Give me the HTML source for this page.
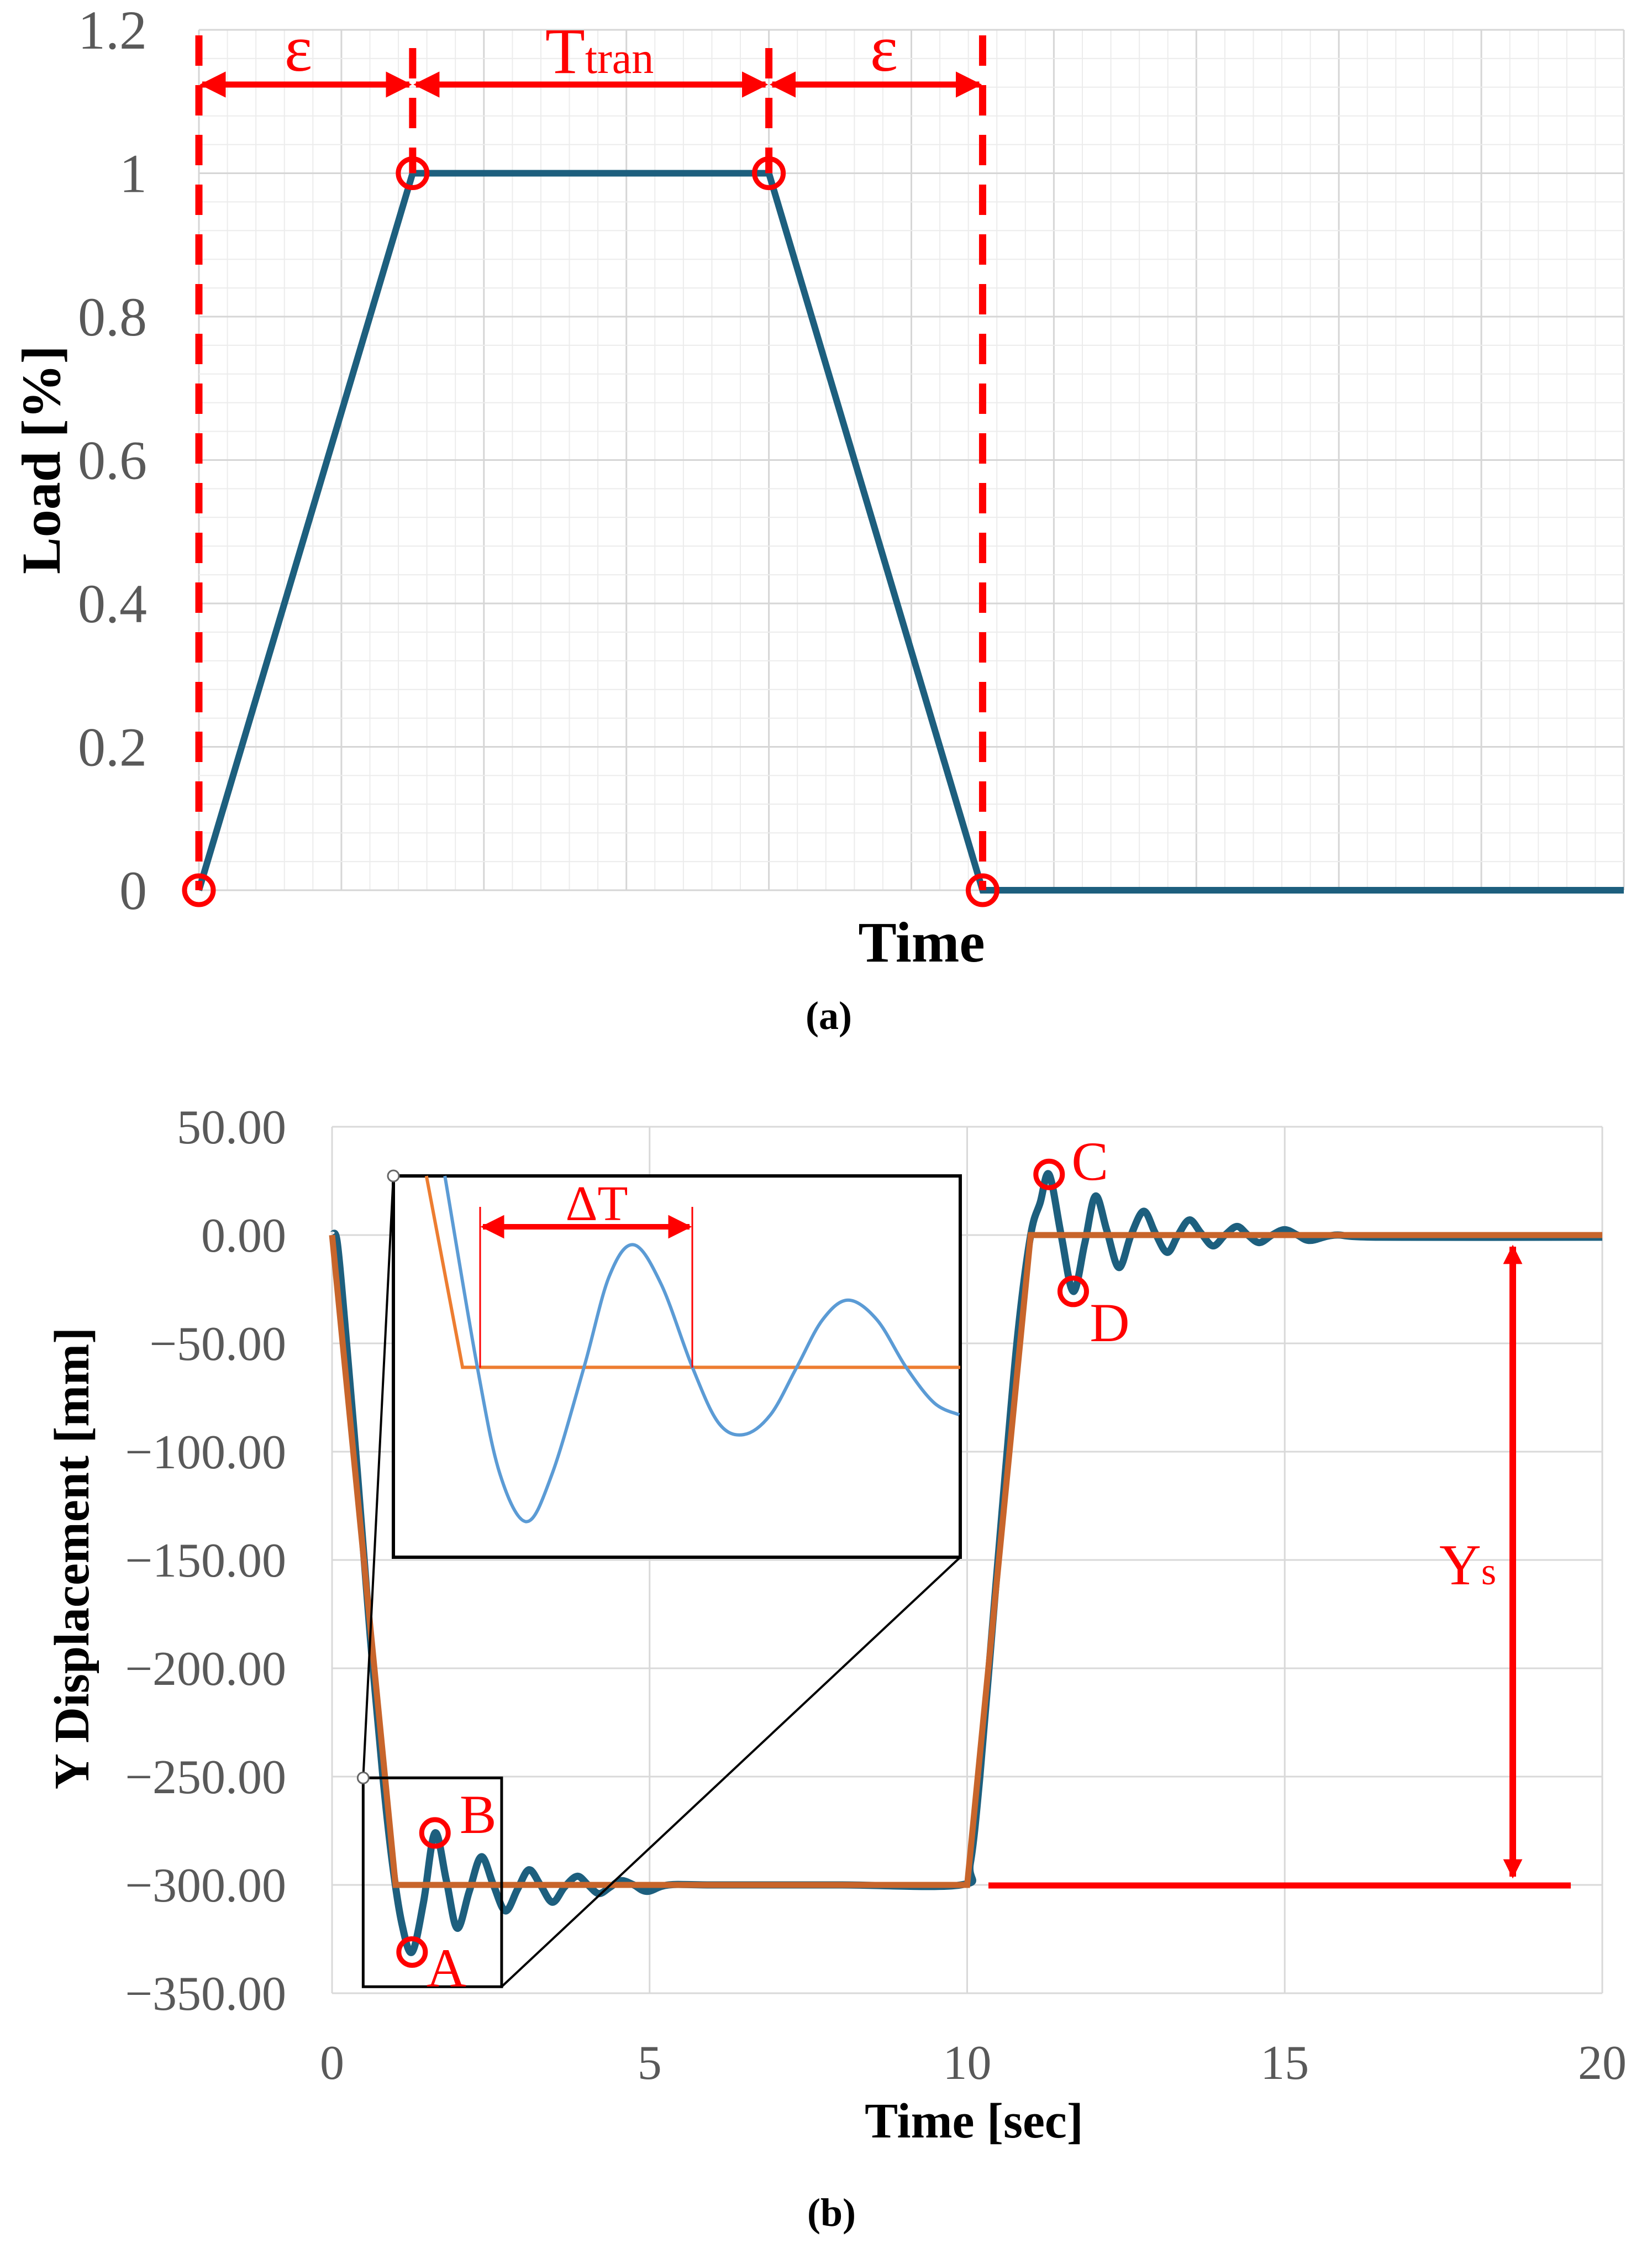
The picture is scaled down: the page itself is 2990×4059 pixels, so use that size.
<!DOCTYPE html>
<html><head><meta charset="utf-8">
<style>
html,body{margin:0;padding:0;background:#fff;}
svg{display:block;font-family:"Liberation Serif",serif;}
</style></head>
<body>
<svg id="fig" width="2990" height="4059" viewBox="0 0 2990 4059" xmlns="http://www.w3.org/2000/svg">
<defs>
<marker id="ah" viewBox="0 0 10 10" refX="9" refY="5" markerWidth="4.3" markerHeight="4.3" orient="auto-start-reverse"><path d="M0,0 L10,5 L0,10 z" fill="#ff0000"/></marker>
<marker id="ah2" viewBox="0 0 10 10" refX="9" refY="5" markerWidth="2.9" markerHeight="2.9" orient="auto-start-reverse"><path d="M0,0 L10,5 L0,10 z" fill="#ff0000"/></marker>
</defs>
<g id="chartA"></g>
<g id="chartB"></g>
</svg>
<script>
// ---------- Chart (a) data ----------
const aTimes = [0, 1.5, 4, 5.5, 10];
const aLoads = [0, 1, 1, 0, 0];
const aYTicks = [0, 0.2, 0.4, 0.6, 0.8, 1, 1.2];
const aYTickLabels = ["0", "0.2", "0.4", "0.6", "0.8", "1", "1.2"];
const aMarkTimes = [0, 1.5, 4, 5.5];

// ---------- Chart (b) data ----------
const bYTicks = [50, 0, -50, -100, -150, -200, -250, -300, -350];
const bYTickLabels = ["50.00", "0.00", "\u221250.00", "\u2212100.00", "\u2212150.00", "\u2212200.00", "\u2212250.00", "\u2212300.00", "\u2212350.00"];
const bXTicks = [0, 5, 10, 15, 20];
const bXTickLabels = ["0", "5", "10", "15", "20"];
const orangeT = [0, 1.0, 10.0, 11.0, 20];
const orangeY = [0, -300, -300, 0, 0];
const blueT = [0,0.08,0.2,0.4,0.6,0.8,0.95,1.1,1.26,1.44,1.62,1.8,1.97,2.16,2.35,2.54,2.73,2.92,3.1,3.28,3.47,3.66,3.86,4.03,4.2,4.38,4.55,4.75,4.96,5.3,6,8,9.9,10.05,10.2,10.4,10.6,10.8,11.0,11.15,11.29,11.48,11.67,11.85,12.02,12.2,12.39,12.58,12.78,12.96,13.15,13.32,13.5,13.68,13.87,14.06,14.25,14.42,14.6,14.8,15,15.2,15.4,15.8,16.5,20];
const blueY = [0,-3,-40,-110,-185,-250,-290,-318,-331,-308,-276,-298,-320,-303,-287,-300,-312,-302,-293,-300,-308,-301,-296,-300,-304,-301,-298,-300,-303,-300,-300,-300,-300,-290,-250,-180,-110,-45,0,15,28,0,-26,-4,18,2,-15,0,11,1,-8,0,7,1,-5,0,4,0,-3.5,0,2.5,0,-2.5,0,-1,-1];
// inset (zoom) data
const insetOrangeT = [0.617, 0.756, 2.67];
const insetOrangeY = [-250.6, -299, -299];
const insetBlueT = [0.688,0.813,0.9,1.002,1.1,1.223,1.32,1.414,1.52,1.64,1.74,1.837,1.94,2.041,2.14,2.239,2.35,2.462,2.57,2.666];
const insetBlueY = [-250.6,-299,-326,-338,-326,-299,-276,-268,-278,-299,-313,-316,-311,-299,-287,-282,-287,-299,-308,-311];
const markerLabels = ["A","B","C","D"];
const markerT = [1.26, 1.62, 11.29, 11.67];
const markerY = [-331, -276, 28, -26];

const NS = "http://www.w3.org/2000/svg";
function el(tag, attrs, parent){ const e=document.createElementNS(NS,tag); for(const k in attrs) e.setAttribute(k,attrs[k]); parent.appendChild(e); return e; }

// ===== Chart A =====
const A = document.getElementById('chartA');
const aL=360, aR=2939, aTop=54, aBot=1611;
const ax = t => aL + (t/10)*(aR-aL);
const ay = v => aBot - (v/1.2)*(aBot-aTop);
for(let i=0;i<=50;i++){
  const x = aL + i*(aR-aL)/50;
  const g = el('line',{x1:x,y1:aTop,x2:x,y2:aBot,stroke:(i%5===0)?'#d6d6d6':'#ececec','stroke-width':(i%5===0)?3:2},A);
  
  
}
for(let i=0;i<=30;i++){
  const y = aTop + i*(aBot-aTop)/30;
  const g = el('line',{x1:aL,y1:y,x2:aR,y2:y,stroke:(i%5===0)?'#d6d6d6':'#ececec','stroke-width':(i%5===0)?3:2},A);
  
  
}
aYTicks.forEach((v,i)=>{
  const t = el('text',{x:266,y:ay(v)+34,'text-anchor':'end','font-size':100,fill:'#595959'},A);
  t.textContent = aYTickLabels[i];
  
  
});
{
  const p = el('polyline',{points:aTimes.map((t,i)=>ax(t)+','+ay(aLoads[i])).join(' '),fill:'none',stroke:'#1d5f7e','stroke-width':12,'stroke-linejoin':'miter'},A);
  
  
}
aMarkTimes.forEach((t,i)=>{
  const inner = (i===1||i===2);
  const d = el('line',{x1:ax(t),y1:inner?87:aTop+10,x2:ax(t),y2:inner?ay(1):aBot,stroke:'#ff0000','stroke-width':13,'stroke-dasharray':'55 35'},A);
  
  
});
for(let i=0;i<3;i++){
  const x1=ax(aMarkTimes[i])+6, x2=ax(aMarkTimes[i+1])-6;
  const ar = el('line',{x1:x1,y1:153,x2:x2,y2:153,stroke:'#ff0000','stroke-width':11,'marker-start':'url(#ah)','marker-end':'url(#ah)'},A);
  
  
}
{
  const e1 = el('text',{x:540,y:128,'text-anchor':'middle','font-size':120,fill:'#ff0000'},A);
  e1.textContent='ε';
  
  
  const e2 = el('text',{x:1600,y:128,'text-anchor':'middle','font-size':120,fill:'#ff0000'},A);
  e2.textContent='ε';
  
  
  const tt = el('text',{x:1085,y:132,'text-anchor':'middle',fill:'#ff0000'},A);
  
  
  const s1 = el('tspan',{'font-size':118},tt); s1.textContent='T';
  const s2 = el('tspan',{'font-size':80},tt); s2.textContent='tran';
}
aMarkTimes.forEach((t,i)=>{
  const c = el('circle',{cx:ax(t),cy:ay(aLoads[i]),r:26,fill:'none',stroke:'#ff0000','stroke-width':9},A);
  
  
});
{
  const xt = el('text',{x:1668,y:1740,'text-anchor':'middle','font-size':104,'font-weight':'bold',fill:'#000'},A);
  xt.textContent='Time';
  
  
  const yt = el('text',{x:0,y:0,'text-anchor':'middle','font-size':100,'font-weight':'bold',fill:'#000',transform:'translate(108,832) rotate(-90)'},A);
  yt.textContent='Load [%]';
  
  
  const cap = el('text',{x:1500,y:1862,'text-anchor':'middle','font-size':72,'font-weight':'bold',fill:'#000'},A);
  cap.textContent='(a)';
  
  
}

// ===== Chart B =====
const B = document.getElementById('chartB');
const bL=601, bR=2900, bTop=2039, bBot=3607;
const bx = t => bL + (t/20)*(bR-bL);
const by = v => bTop + ((50-v)/400)*(bBot-bTop);
bYTicks.forEach((v,i)=>{
  const g = el('line',{x1:bL,y1:by(v),x2:bR,y2:by(v),stroke:'#d9d9d9','stroke-width':3},B);
  
  
  const t = el('text',{x:518,y:by(v)+30,'text-anchor':'end','font-size':88,fill:'#595959'},B);
  t.textContent=bYTickLabels[i];
  
  
});
bXTicks.forEach((v,i)=>{
  const g = el('line',{x1:bx(v),y1:bTop,x2:bx(v),y2:bBot,stroke:'#d9d9d9','stroke-width':3},B);
  
  
  const t = el('text',{x:bx(v),y:3762,'text-anchor':'middle','font-size':88,fill:'#595959'},B);
  t.textContent=bXTickLabels[i];
  
  
});
function smoothPath(xs, ys){
  let d='M'+xs[0]+','+ys[0];
  for(let i=0;i<xs.length-1;i++){
    const x0=xs[Math.max(i-1,0)], y0=ys[Math.max(i-1,0)];
    const x1=xs[i], y1=ys[i], x2=xs[i+1], y2=ys[i+1];
    const x3=xs[Math.min(i+2,xs.length-1)], y3=ys[Math.min(i+2,ys.length-1)];
    d+=' C'+(x1+(x2-x0)/6)+','+(y1+(y2-y0)/6)+' '+(x2-(x3-x1)/6)+','+(y2-(y3-y1)/6)+' '+x2+','+y2;
  }
  return d;
}
{
  const bp = el('path',{d:smoothPath(blueT.map(bx),blueY.map(by)),fill:'none',stroke:'#1d5f7e','stroke-width':13,'stroke-linejoin':'round'},B);
  
  
  const op = el('polyline',{points:orangeT.map((t,i)=>bx(t)+','+by(orangeY[i])).join(' '),fill:'none',stroke:'#c8652b','stroke-width':11},B);
  
  
}
const srcT0=0.49, srcT1=2.67, srcV0=-250.6, srcV1=-347;
const iL=712, iR=1738, iT=2128, iB=2818;
const ix = t => iL + (t-srcT0)/(srcT1-srcT0)*(iR-iL);
const iy = v => iT + (v-srcV0)/(srcV1-srcV0)*(iB-iT);
{
  const sb = el('rect',{x:bx(srcT0),y:by(srcV0),width:bx(srcT1)-bx(srcT0),height:by(srcV1)-by(srcV0),fill:'none',stroke:'#000','stroke-width':5},B);
  
  
  const c1 = el('line',{x1:bx(srcT0),y1:by(srcV0),x2:iL,y2:iT,stroke:'#000','stroke-width':4},B);
  
  
  const c2 = el('line',{x1:bx(srcT1),y1:by(srcV1),x2:iR,y2:iB,stroke:'#000','stroke-width':4},B);
  
  
  const ib = el('rect',{x:iL,y:iT,width:iR-iL,height:iB-iT,fill:'#fff',stroke:'#000','stroke-width':6},B);
  
  
  const h1 = el('circle',{cx:bx(srcT0),cy:by(srcV0),r:10,fill:'#fff',stroke:'#666','stroke-width':3},B);
  
  
  const h2 = el('circle',{cx:iL,cy:iT,r:10,fill:'#fff',stroke:'#666','stroke-width':3},B);
  
  
  const io = el('polyline',{points:insetOrangeT.map((t,i)=>ix(t)+','+iy(insetOrangeY[i])).join(' '),fill:'none',stroke:'#ed7d31','stroke-width':6},B);
  
  
  const ibl = el('path',{d:smoothPath(insetBlueT.map(ix),insetBlueY.map(iy)),fill:'none',stroke:'#5b9bd5','stroke-width':6},B);
  
  
  [869,1253].forEach(x=>{
    const v = el('line',{x1:x,y1:2184,x2:x,y2:2475,stroke:'#ff0000','stroke-width':3},B);
    
    
  });
  const da = el('line',{x1:874,y1:2220,x2:1248,y2:2220,stroke:'#ff0000','stroke-width':10,'marker-start':'url(#ah)','marker-end':'url(#ah)'},B);
  
  
  const dt = el('text',{x:1080,y:2208,'text-anchor':'middle','font-size':90,fill:'#ff0000'},B);
  dt.textContent='ΔT';
  
  
}
const labelOff = [[62,42],[78,-20],[74,-10],[66,70]];
markerLabels.forEach((lab,i)=>{
  const c = el('circle',{cx:bx(markerT[i]),cy:by(markerY[i]),r:24,fill:'none',stroke:'#ff0000','stroke-width':9},B);
  
  
  const t = el('text',{x:bx(markerT[i])+labelOff[i][0],y:by(markerY[i])+labelOff[i][1]+20,'text-anchor':'middle','font-size':100,fill:'#ff0000'},B);
  t.textContent=lab;
  
  
});
{
  const yl = el('line',{x1:1789,y1:3412,x2:2843,y2:3412,stroke:'#ff0000','stroke-width':11},B);
  
  
  const ya = el('line',{x1:2738,y1:2256,x2:2738,y2:3396,stroke:'#ff0000','stroke-width':12,'marker-start':'url(#ah2)','marker-end':'url(#ah2)'},B);
  
  
  const yt = el('text',{x:2605,y:2867,'text-anchor':'start',fill:'#ff0000'},B);
  
  
  const s1 = el('tspan',{'font-size':105},yt); s1.textContent='Y';
  const s2 = el('tspan',{'font-size':70},yt); s2.textContent='s';
}
{
  const xt = el('text',{x:1763,y:3868,'text-anchor':'middle','font-size':90,'font-weight':'bold',fill:'#000'},B);
  xt.textContent='Time [sec]';
  
  
  const yt = el('text',{x:0,y:0,'text-anchor':'middle','font-size':90,'font-weight':'bold',fill:'#000',transform:'translate(160,2820) rotate(-90)'},B);
  yt.textContent='Y Displacement [mm]';
  
  
  const cap = el('text',{x:1505,y:4028,'text-anchor':'middle','font-size':72,'font-weight':'bold',fill:'#000'},B);
  cap.textContent='(b)';
  
  
}
</script>
</body></html>
